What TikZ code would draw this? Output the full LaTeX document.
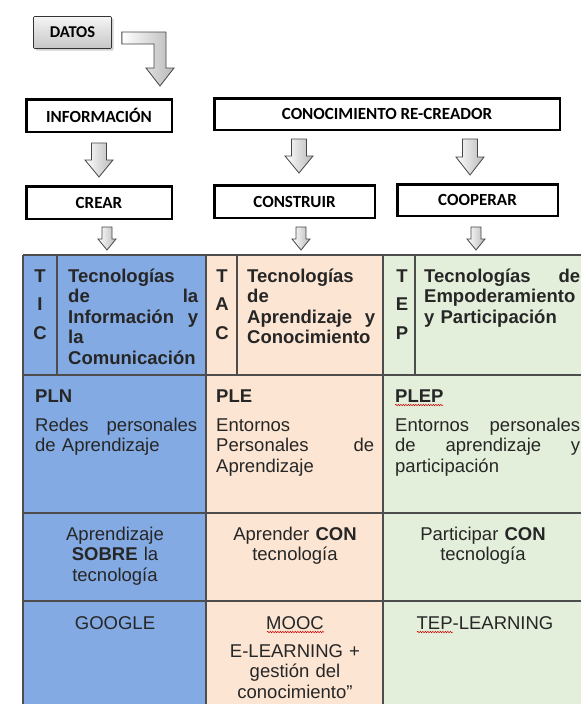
\documentclass[tikz,border=0pt]{standalone}
\usepackage{fontspec}
\setmainfont{Liberation Sans}
\newfontfamily\calibri{Carlito}
\usepackage{tikz}
\usetikzlibrary{calc}
\usetikzlibrary{shadows}
\usetikzlibrary{decorations.pathmorphing}
\definecolor{ticblue}{HTML}{83AAE2}
\definecolor{tacpeach}{HTML}{FCE5D3}
\definecolor{tepgreen}{HTML}{E3EFDA}
\definecolor{gridgray}{HTML}{4D4D4D}
\tikzset{
  labelbox/.style={draw=black, line width=2.5pt, fill=white, inner sep=0pt,
    font=\calibri\bfseries\fontsize{17}{20}\selectfont},
  arrowshade/.style={draw=gray!55!black, line width=0.8pt, left color=white, right color=gray!55},
  gridline/.style={draw=gridgray, line width=1.1pt},
  celltext/.style={anchor=base west, inner sep=0pt, align=left, text=black!85,
    font=\fontsize{18.5}{20.5}\selectfont},
  cellcenter/.style={anchor=base, inner sep=0pt, align=center, text=black!85,
    text width=175pt, font=\fontsize{18.5}{20.5}\selectfont},
  spellmark/.style={draw=red!80!black, line width=0.5pt, decorate,
    decoration={snake, amplitude=0.7pt, segment length=2.5pt}}
}
\begin{document}
\begin{tikzpicture}[x=1pt,y=-1pt]
\useasboundingbox[fill=white] (0,0) rectangle (581,704);
% top boxes
\node[draw=gray!40!black, line width=0.7pt, top color=gray!8, bottom color=gray!45,
  rounded corners=1pt, drop shadow={opacity=0.35, shadow xshift=2pt, shadow yshift=-2pt},
  minimum width=78pt, minimum height=32pt, inner sep=0pt,
  font=\calibri\bfseries\fontsize{16.5}{20}\selectfont] (datos) at (72.5,32.5) {DATOS};
\node[labelbox, minimum width=145.5pt, minimum height=32.5pt] (info) at (99,115.5) {INFORMACIÓN};
\node[labelbox, minimum width=345.5pt, minimum height=31.5pt] (conoc) at (387,114) {CONOCIMIENTO RE-CREADOR};
\node[labelbox, minimum width=145.5pt, minimum height=32.5pt] (crear) at (99,202.5) {CREAR};
\node[labelbox, minimum width=160.5pt, minimum height=32.5pt] (constr) at (294.5,201.5) {CONSTRUIR};
\node[labelbox, minimum width=160.5pt, minimum height=31.5pt] (coop) at (477.5,200) {COOPERAR};
\coordinate (tabletop) at (23,255);
% arrows
\shade[arrowshade] ($(datos.east)+(10,-0.5)$) -- (166,32) -- (166,68) -- (174,68) -- (160,86)
  -- (146,68) -- (154,68) -- (154,44) -- ($(datos.east)+(10,11.5)$) -- cycle;
\shade[arrowshade] ($(info.south)+(-7.5,10)$) -- ++(15,0) -- ++(0,17) -- ++(6.5,0)
  -- ++(-14,17) -- ++(-14,-17) -- ++(6.5,0) -- cycle;
\shade[arrowshade] ($(constr.north |- conoc.south)+(-3,8)$) -- ++(15,0) -- ++(0,17) -- ++(6.5,0)
  -- ++(-14,17) -- ++(-14,-17) -- ++(6.5,0) -- cycle;
\shade[arrowshade] ($(coop.north |- conoc.south)+(-15,8)$) -- ++(15,0) -- ++(0,18) -- ++(6.5,0)
  -- ++(-14,18) -- ++(-14,-18) -- ++(6.5,0) -- cycle;
\shade[arrowshade] ($(crear.south)+(3,7)$) -- ++(10,0) -- ++(0,12) -- ++(4,0)
  -- ++(-9,11) -- ++(-9,-11) -- ++(4,0) -- cycle;
\shade[arrowshade] ($(constr.south)+(1.5,8)$) -- ++(10,0) -- ++(0,12) -- ++(4,0)
  -- ++(-9,11) -- ++(-9,-11) -- ++(4,0) -- cycle;
\shade[arrowshade] ($(coop.south)+(-6.5,10)$) -- ++(10,0) -- ++(0,12) -- ++(4,0)
  -- ++(-9,11) -- ++(-9,-11) -- ++(4,0) -- cycle;
% table
\fill[ticblue] (23,255) rectangle (206,704);
\fill[tacpeach] (206,255) rectangle (383,704);
\fill[tepgreen] (383,255) rectangle (581,704);
\foreach \y in {255,375,513,601}
  \draw[gridline] (23,\y) -- (581,\y);
\foreach \x in {23,206,383}
  \draw[gridline] (\x,255) -- (\x,704);
\foreach \x in {57,237,415}
  \draw[gridline] (\x,255) -- (\x,375);
% row 1
\node[cellcenter, text width=20pt, font=\bfseries\fontsize{18.5}{20.5}\selectfont] (ticL) at (40,282) {T\\[8pt]I\\[8pt]C};
\node[celltext, text width=130pt, font=\bfseries\fontsize{18.5}{20.5}\selectfont] (ticT) at (68,282)
  {Tecnologías\\de\hfill la\\Información\hfill y\\la\\Comunicación};
\node[cellcenter, text width=20pt, font=\bfseries\fontsize{18.5}{20.5}\selectfont] (tacL) at (222,282) {T\\[8pt]A\\[8pt]C};
\node[celltext, text width=128pt, font=\bfseries\fontsize{18.5}{20.5}\selectfont] (tacT) at (247,282)
  {Tecnologías\\de\\Aprendizaje\hfill y\\Conocimiento};
\node[cellcenter, text width=20pt, font=\bfseries\fontsize{18.5}{20.5}\selectfont] (tepL) at (402,282) {T\\[8pt]E\\[8pt]P};
\node[celltext, text width=156pt, font=\bfseries\fontsize{18.5}{20.5}\selectfont] (tepT) at (424,282)
  {Tecnologías\hfill de\\Empoderamiento\\y Participación};
% row 2
\node[celltext, text width=162pt] (pln) at (35,402)
  {\textbf{PLN}\\[8.5pt]Redes\hfill personales\\de Aprendizaje};
\node[celltext, text width=158pt] (ple) at (216,402)
  {\textbf{PLE}\\[8.5pt]Entornos\\Personales\hfill de\\Aprendizaje};
\node[celltext, text width=185pt] (plep) at (395,402)
  {\textbf{PLEP}\\[8.5pt]Entornos\hfill personales\\de\hfill aprendizaje\hfill y\\participación};
% row 3
\node[cellcenter] (sobre) at (115,540) {Aprendizaje\\\textbf{SOBRE} la\\tecnología};
\node[cellcenter] (conA) at (295,540) {Aprender \textbf{CON}\\tecnología};
\node[cellcenter] (conP) at (483,540) {Participar \textbf{CON}\\tecnología};
% row 4
\node[cellcenter] (google) at (115,629) {GOOGLE};
\node[cellcenter] (mooc) at (295,629) {MOOC\\[7.5pt]E-LEARNING +\\gestión del\\conocimiento”};
\node[cellcenter] (tepl) at (485,629) {TEP-LEARNING};
% spelling marks
\draw[spellmark] (395,405) -- (443,405);
\draw[spellmark] (267,632) -- (324,632);
\draw[spellmark] (417,632) -- (453,632);
\end{tikzpicture}
\end{document}
